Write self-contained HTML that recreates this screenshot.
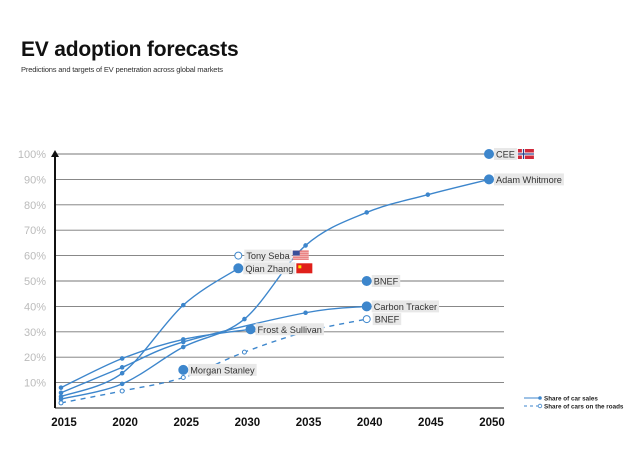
<!DOCTYPE html>
<html><head><meta charset="utf-8">
<style>
html,body{margin:0;padding:0;background:#fff;}
body{width:638px;height:452px;overflow:hidden;position:relative;font-family:"Liberation Sans",sans-serif;}
#title{position:absolute;left:21px;top:38px;font-size:21px;font-weight:bold;color:#111;letter-spacing:-0.2px;}
#sub{position:absolute;left:21px;top:65px;font-size:7.6px;color:#333;letter-spacing:-0.2px;}
svg{position:absolute;left:0;top:0;}
</style></head>
<body>
<div id="title">EV adoption forecasts</div>
<div id="sub">Predictions and targets of EV penetration across global markets</div>
<svg id="chart" width="638" height="452"></svg>
<script>
const yTicks=[10,20,30,40,50,60,70,80,90,100];
const xTicks=[2015,2020,2025,2030,2035,2040,2045,2050];
const frostYears=[2015,2020,2025,2030.5];
const frostVals=[8,19.5,27,31];
const carbonYears=[2015,2020,2025,2035,2040];
const carbonVals=[6,16,26,37.5,40];
const qianYears=[2015,2020,2025,2029.5];
const qianVals=[4.5,13.7,40.5,55];
const adamYears=[2015,2020,2025,2030,2035,2040,2045,2050];
const adamVals=[3.5,9.5,24,35,64,77,84,90];
const roadYears=[2015,2020,2025,2030,2035,2040];
const roadVals=[2,6.7,12,22,30,35];
const markerNames=["CEE","Adam Whitmore","Tony Seba","Qian Zhang","BNEF","Carbon Tracker","Frost & Sullivan","BNEF","Morgan Stanley"];
const markerYears=[2050,2050,2029.5,2029.5,2040,2040,2030.5,2040,2025];
const markerVals=[100,90,60,55,50,40,31,35,15];
const markerHollow=[false,false,true,false,false,false,false,true,false];
const markerFlag=["no","","us","cn","","","","",""];

const X=y=>61+(y-2015)*(428/35);
const Y=v=>408-v*2.54;
const NS="http://www.w3.org/2000/svg";
const svg=document.getElementById('chart');
function mk(t,a,p){const e=document.createElementNS(NS,t);for(const k in a)e.setAttribute(k,a[k]);(p||svg).appendChild(e);return e;}
const C="#3d86cc";

yTicks.forEach(v=>{
  const l=mk('line',{x1:55,x2:504,y1:Y(v),y2:Y(v),stroke:'#777','stroke-width':0.9});
  
  
  const t=mk('text',{x:46,y:Y(v)+4,'text-anchor':'end','font-size':11,fill:'#bbb'});
  t.textContent=v+'%';
  
  
});
const xa=mk('line',{x1:55,x2:504,y1:408,y2:408,stroke:'#222','stroke-width':1});


const ya=mk('line',{x1:55,x2:55,y1:408,y2:152,stroke:'#111','stroke-width':2});


const arr=mk('path',{d:'M51,157 L55,150 L59,157 Z',fill:'#111'});


xTicks.forEach(y=>{
  const t=mk('text',{x:X(y)+3,y:426,'text-anchor':'middle','font-size':11.5,'font-weight':'bold',fill:'#111'});
  t.textContent=y;
  
  
});

function smooth(pts){
  let d='M'+pts[0][0]+','+pts[0][1];
  for(let i=0;i<pts.length-1;i++){
    const p0=pts[i-1]||pts[i],p1=pts[i],p2=pts[i+1],p3=pts[i+2]||p2;
    const c1=[p1[0]+(p2[0]-p0[0])/6,p1[1]+(p2[1]-p0[1])/6];
    const c2=[p2[0]-(p3[0]-p1[0])/6,p2[1]-(p3[1]-p1[1])/6];
    d+=' C'+c1+' '+c2+' '+p2;
  }
  return d;
}
function series(name,yrs,vals,dashed){
  const pts=yrs.map((y,i)=>[X(y),Y(vals[i])]);
  const p=mk('path',{d:smooth(pts),fill:'none',stroke:C,'stroke-width':1.4,'stroke-dasharray':dashed?'5,5':'none'});
  
  
  pts.slice(0,-1).forEach(q=>{
    const c=mk('circle',{cx:q[0],cy:q[1],r:dashed?2:1.8,fill:dashed?'#fff':C,stroke:C,'stroke-width':1});
    
    
  });
}
series('frost-sullivan',frostYears,frostVals,false);
series('carbon-tracker',carbonYears,carbonVals,false);
series('qian-zhang',qianYears,qianVals,false);
series('adam-whitmore',adamYears,adamVals,false);
series('bnef-roads',roadYears,roadVals,true);

function flag(kind,x,y){
  const g=mk('g',{});
  
  
  if(kind==='us'){
    mk('rect',{x:x,y:y,width:16,height:10,fill:'#fff'},g);
    for(let i=0;i<5;i++)mk('rect',{x:x,y:y+i*2,width:16,height:1,fill:'#d33'},g);
    mk('rect',{x:x,y:y,width:7,height:5,fill:'#3a4f9a'},g);
  }else if(kind==='cn'){
    mk('rect',{x:x,y:y,width:16,height:10,fill:'#e0201b'},g);
    mk('rect',{x:x+2,y:y+2,width:3,height:3,fill:'#ffdf00'},g);
  }else{
    mk('rect',{x:x,y:y,width:16,height:10,fill:'#d0293a'},g);
    mk('rect',{x:x+4,y:y,width:3,height:10,fill:'#fff'},g);
    mk('rect',{x:x,y:y+3.5,width:16,height:3,fill:'#fff'},g);
    mk('rect',{x:x+5,y:y,width:1.2,height:10,fill:'#2a3f8a'},g);
    mk('rect',{x:x,y:y+4.4,width:16,height:1.2,fill:'#2a3f8a'},g);
  }
}
markerNames.forEach((n,i)=>{
  const cx=X(markerYears[i]),cy=Y(markerVals[i]);
  const h=markerHollow[i];
  const tx=cx+(h?8:7);
  const bg=mk('rect',{x:tx-2,y:cy-6,width:10,height:12,fill:'#e8e8e8'});
  
  
  const c=mk('circle',{cx:cx,cy:cy,r:h?3.5:4.5,fill:h?'#fff':C,stroke:C,'stroke-width':1});
  
  
  const t=mk('text',{x:tx,y:cy+3.5,'font-size':9.2,fill:'#333'});
  t.textContent=n;
  
  
  const w=t.getComputedTextLength()+4;
  bg.setAttribute('width',w);
  if(markerFlag[i])flag(markerFlag[i],tx+w-1,cy-5);
});

const lg=mk('g',{});


mk('line',{x1:524,x2:540,y1:398,y2:398,stroke:C,'stroke-width':1},lg);
mk('circle',{cx:540,cy:398,r:1.8,fill:C},lg);
mk('line',{x1:524,x2:538,y1:406,y2:406,stroke:C,'stroke-width':1,'stroke-dasharray':'3,3'},lg);
mk('circle',{cx:540,cy:406,r:1.8,fill:'#fff',stroke:C,'stroke-width':0.8},lg);
const l1=mk('text',{x:544,y:400.5,'font-size':6.3,'font-weight':'bold',fill:'#222'},lg);
l1.textContent='Share of car sales';


const l2=mk('text',{x:544,y:408.5,'font-size':6.3,'font-weight':'bold',fill:'#222'},lg);
l2.textContent='Share of cars on the roads';


</script>
</body></html>
